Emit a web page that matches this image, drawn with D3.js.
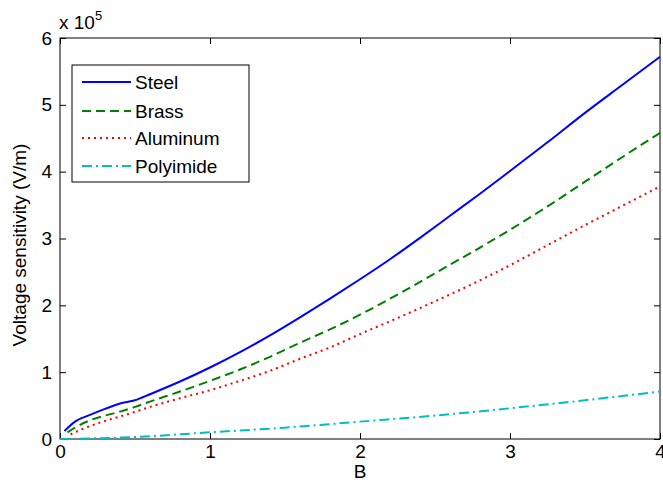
<!DOCTYPE html>
<html>
<head>
<meta charset="utf-8">
<script src="https://cdn.jsdelivr.net/npm/d3@7"></script>
<style>
  html, body { margin: 0; padding: 0; background: #fff; }
  svg { display: block; font-family: "Liberation Sans", Arial, sans-serif; }
</style>
</head>
<body>
<svg id="chart" width="663" height="493"></svg>
<script>
// Voltage sensitivity (units of 1e5 V/m) versus B for four substrate materials
const steelB   = [0.03, 0.1, 0.2, 0.3, 0.4, 0.5, 0.6, 0.8, 1.0, 1.2, 1.4, 1.6, 1.8, 2.0, 2.2, 2.4, 2.6, 2.8, 3.0, 3.25, 3.5, 3.75, 4.0];
const steelV   = [0.12, 0.26, 0.36, 0.45, 0.53, 0.58, 0.67, 0.86, 1.07, 1.30, 1.55, 1.82, 2.10, 2.39, 2.69, 3.01, 3.34, 3.67, 4.01, 4.44, 4.88, 5.30, 5.72];

const brassB   = [0.05, 0.1, 0.2, 0.3, 0.4, 0.5, 0.6, 0.8, 1.0, 1.2, 1.4, 1.6, 1.8, 2.0, 2.25, 2.5, 2.75, 3.0, 3.25, 3.5, 3.75, 4.0];
const brassV   = [0.10, 0.17, 0.28, 0.35, 0.41, 0.48, 0.56, 0.71, 0.87, 1.04, 1.23, 1.44, 1.64, 1.86, 2.16, 2.48, 2.80, 3.13, 3.48, 3.85, 4.22, 4.58];

const aluminumB = [0.07, 0.15, 0.3, 0.45, 0.6, 0.8, 1.0, 1.2, 1.4, 1.6, 1.8, 2.0, 2.25, 2.5, 2.75, 3.0, 3.25, 3.5, 3.75, 4.0];
const aluminumV = [0.07, 0.15, 0.27, 0.37, 0.48, 0.61, 0.73, 0.87, 1.02, 1.20, 1.37, 1.57, 1.81, 2.06, 2.32, 2.60, 2.90, 3.20, 3.49, 3.78];

const polyimideB = [0.0, 0.5, 1.0, 1.5, 2.0, 2.5, 3.0, 3.5, 4.0];
const polyimideV = [0.0, 0.03, 0.10, 0.17, 0.26, 0.35, 0.46, 0.58, 0.71];

const xTicks = [0, 1, 2, 3, 4];
const yTicks = [0, 1, 2, 3, 4, 5, 6];

const series = [
  { name: "Steel",     b: steelB,     v: steelV,     color: "#0000ff", dash: null },
  { name: "Brass",     b: brassB,     v: brassV,     color: "#008000", dash: "9,5" },
  { name: "Aluminum",  b: aluminumB,  v: aluminumV,  color: "#ff0000", dash: "2,4" },
  { name: "Polyimide", b: polyimideB, v: polyimideV, color: "#00bfbf", dash: "10,4,2,4" }
];

const svg = d3.select("#chart");
const plotLeft = 60, plotRight = 660, plotTop = 38, plotBottom = 439;

const x = d3.scaleLinear().domain([0, 4]).range([plotLeft, plotRight]);
const y = d3.scaleLinear().domain([0, 6]).range([plotBottom, plotTop]);

const tickLen = 6;
const fontSize = 19;

// Plot box
svg.append("rect")
  .attr("x", plotLeft).attr("y", plotTop)
  .attr("width", plotRight - plotLeft).attr("height", plotBottom - plotTop)
  .attr("fill", "#fff").attr("stroke", "#000").attr("stroke-width", 1);

// Axes with inward ticks
const xAxisB = d3.axisBottom(x).tickValues(xTicks).tickSizeInner(-tickLen).tickSizeOuter(0).tickPadding(6).tickFormat(d3.format("d"));
const xAxisT = d3.axisTop(x).tickValues(xTicks).tickSizeInner(-tickLen).tickSizeOuter(0).tickFormat("");
const yAxisL = d3.axisLeft(y).tickValues(yTicks).tickSizeInner(-tickLen).tickSizeOuter(0).tickPadding(8).tickFormat(d3.format("d"));
const yAxisR = d3.axisRight(y).tickValues(yTicks).tickSizeInner(-tickLen).tickSizeOuter(0).tickFormat("");

function styleAxis(g) {
  g.select(".domain").remove();
  g.selectAll("line").attr("stroke", "#000");
  g.selectAll("text").attr("font-size", fontSize).attr("font-family", "Liberation Sans, Arial, sans-serif").attr("fill", "#000");
}

svg.append("g").attr("transform", `translate(0,${plotBottom})`).call(xAxisB).call(styleAxis);
svg.append("g").attr("transform", `translate(0,${plotTop})`).call(xAxisT).call(styleAxis);
svg.append("g").attr("transform", `translate(${plotLeft},0)`).call(yAxisL).call(styleAxis);
svg.append("g").attr("transform", `translate(${plotRight},0)`).call(yAxisR).call(styleAxis);

// Lines
const line = d3.line()
  .x(d => x(d[0]))
  .y(d => y(d[1]))
  .curve(d3.curveMonotoneX);

const plot = svg.append("g");
series.forEach(s => {
  const pts = s.b.map((b, i) => [b, s.v[i]]);
  plot.append("path")
    .datum(pts)
    .attr("d", line)
    .attr("fill", "none")
    .attr("stroke", s.color)
    .attr("stroke-width", 2)
    .attr("stroke-dasharray", s.dash);
});

// Exponent label
const expo = svg.append("text")
  .attr("x", 59).attr("y", 29)
  .attr("font-size", fontSize).attr("fill", "#000");
expo.append("tspan").text("x 10");
expo.append("tspan").attr("dy", -9).attr("font-size", 13).text("5");

// Axis titles
svg.append("text")
  .attr("x", (plotLeft + plotRight) / 2).attr("y", 478)
  .attr("text-anchor", "middle")
  .attr("font-size", fontSize).attr("fill", "#000")
  .text("B");

svg.append("text")
  .attr("transform", `translate(26,245) rotate(-90)`)
  .attr("text-anchor", "middle")
  .attr("font-size", fontSize).attr("fill", "#000")
  .text("Voltage sensitivity (V/m)");

// Legend
const legend = svg.append("g");
legend.append("rect")
  .attr("x", 72).attr("y", 65)
  .attr("width", 177).attr("height", 117)
  .attr("fill", "#fff").attr("stroke", "#000").attr("stroke-width", 1);

const legendY = [82, 111, 138, 166];
series.forEach((s, i) => {
  legend.append("line")
    .attr("x1", 82).attr("x2", 131)
    .attr("y1", legendY[i]).attr("y2", legendY[i])
    .attr("stroke", s.color).attr("stroke-width", 2)
    .attr("stroke-dasharray", s.dash);
  legend.append("text")
    .attr("x", 135).attr("y", legendY[i])
    .attr("dy", "0.35em")
    .attr("font-size", fontSize).attr("fill", "#000")
    .text(s.name);
});
</script>
</body>
</html>
